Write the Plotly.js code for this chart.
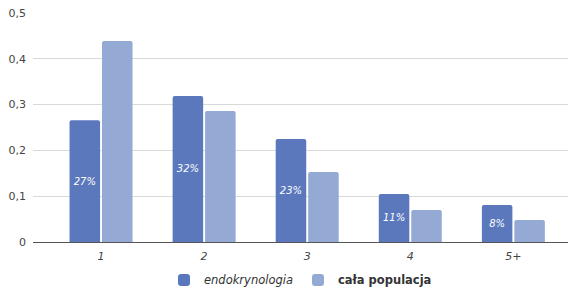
<!DOCTYPE html>
<html>
<head>
<meta charset="utf-8">
<script src="https://cdn.plot.ly/plotly-3.0.1.min.js"></script>
<style>html,body{margin:0;padding:0;background:#fff;}#chart{width:576px;height:288px;}</style>
</head>
<body>
<div id="chart"></div>
<script>
const categories = ["1", "2", "3", "4", "5+"];
const endokrynologia = [0.266, 0.319, 0.225, 0.105, 0.081];
const calaPopulacja = [0.439, 0.286, 0.153, 0.070, 0.048];
const endoLabels = ["27%", "32%", "23%", "11%", "8%"];
const seriesNames = ["<i>endokrynologia</i>", "<b>cała populacja</b>"];
const yTicks = [0, 0.1, 0.2, 0.3, 0.4, 0.5];

const font = "DejaVu Sans, Verdana, sans-serif";

const traces = [
  {
    type: "bar", x: categories, y: endokrynologia, name: seriesNames[0],
    marker: {color: "#5b78bd", cornerradius: 2},
    text: endoLabels, textposition: "inside", insidetextanchor: "middle",
    textfont: {family: font, size: 10, color: "#ffffff", style: "italic"},
    hoverinfo: "skip"
  },
  {
    type: "bar", x: categories, y: calaPopulacja, name: seriesNames[1],
    marker: {color: "#94a9d4", cornerradius: 2},
    hoverinfo: "skip"
  }
];

const layout = {
  width: 576, height: 288,
  margin: {l: 33, r: 8, t: 13, b: 46, autoexpand: false},
  paper_bgcolor: "#ffffff", plot_bgcolor: "#ffffff",
  separators: ", ",
  font: {family: font, size: 11, color: "#444444"},
  barmode: "group", bargap: 0.37, bargroupgap: 0.06,
  showlegend: true,
  legend: {orientation: "h", x: 0.5, xanchor: "center", yref: "container", y: 0.028, yanchor: "middle",
           font: {family: font, size: 11.5, color: "#333333"}, traceorder: "normal"},
  xaxis: {
    type: "category", range: [-0.66, 4.53],
    showgrid: false, zeroline: false, showline: true, linecolor: "#555555", linewidth: 1,
    ticks: "", tickfont: {family: font, size: 11, color: "#444444", style: "italic"},
    ticklabelstandoff: 4,
    fixedrange: true
  },
  yaxis: {
    range: [0, 0.5], tickvals: yTicks,
    showgrid: true, gridcolor: "#d9d9d9", zeroline: false, showline: false,
    ticks: "", tickfont: {family: font, size: 11, color: "#444444"},
    ticklabelstandoff: 6,
    fixedrange: true
  }
};

Plotly.newPlot("chart", traces, layout, {displayModeBar: false, staticPlot: true});
</script>
</body>
</html>
